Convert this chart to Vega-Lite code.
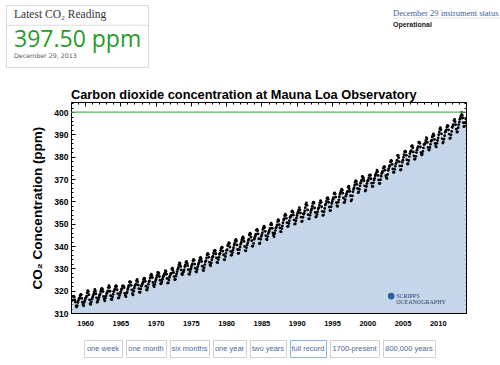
{
"$schema": "https://vega.github.io/schema/vega-lite/v6.json",
"background": "white",
"padding": {"left": 5, "top": 4, "right": 0, "bottom": 0},
"config": {
  "view": {"stroke": null},
  "axis": {"domain": false, "grid": false, "tickColor": "black", "tickWidth": 1, "labelColor": "black", "labelFont": "Liberation Sans", "labelFontWeight": "bold", "titleColor": "black", "titleFont": "Liberation Sans", "titleFontWeight": "bold"}
},
"datasets": {
  "header": [{"part": "head", "text": "Latest CO₂ Reading"}, {"part": "value", "text": "397.50 ppm"}, {"part": "date", "text": "December 29, 2013"}],
  "status": [{"part": "status", "text": "December 29 instrument status"}, {"part": "op", "text": "Operational"}],
  "buttons": [{"label": "one week"}, {"label": "one month"}, {"label": "six months"}, {"label": "one year"}, {"label": "two years"}, {"label": "full record"}, {"label": "1700-present"}, {"label": "800,000 years"}],
  "logo": [{"name": "SCRIPPS\nOCEANOGRAPHY"}],
  "ref": [{"level": 400}],
  "co2": [
{"t":1958.21,"v":315.71},{"t":1958.29,"v":317.45},{"t":1958.38,"v":317.50},{"t":1958.46,"v":317.10},{"t":1958.54,"v":315.86},{"t":1958.63,"v":314.93},{"t":1958.71,"v":313.20},{"t":1958.79,"v":312.66},{"t":1958.88,"v":313.33},{"t":1958.96,"v":314.67},
{"t":1959.04,"v":315.58},{"t":1959.13,"v":316.49},{"t":1959.21,"v":316.65},{"t":1959.29,"v":317.72},{"t":1959.38,"v":318.29},{"t":1959.46,"v":318.15},{"t":1959.54,"v":316.54},{"t":1959.63,"v":314.80},{"t":1959.71,"v":313.84},{"t":1959.79,"v":313.26},{"t":1959.88,"v":314.80},{"t":1959.96,"v":315.58},
{"t":1960.04,"v":316.43},{"t":1960.13,"v":316.97},{"t":1960.21,"v":317.58},{"t":1960.29,"v":319.02},{"t":1960.38,"v":320.03},{"t":1960.46,"v":319.59},{"t":1960.54,"v":318.18},{"t":1960.63,"v":315.91},{"t":1960.71,"v":314.16},{"t":1960.79,"v":313.83},{"t":1960.88,"v":315.00},{"t":1960.96,"v":316.19},
{"t":1961.04,"v":316.93},{"t":1961.13,"v":317.70},{"t":1961.21,"v":318.54},{"t":1961.29,"v":319.48},{"t":1961.38,"v":320.58},{"t":1961.46,"v":319.77},{"t":1961.54,"v":318.57},{"t":1961.63,"v":316.79},{"t":1961.71,"v":314.80},{"t":1961.79,"v":315.38},{"t":1961.88,"v":316.10},{"t":1961.96,"v":317.01},
{"t":1962.04,"v":317.94},{"t":1962.13,"v":318.56},{"t":1962.21,"v":319.68},{"t":1962.29,"v":320.63},{"t":1962.38,"v":321.01},{"t":1962.46,"v":320.55},{"t":1962.54,"v":319.58},{"t":1962.63,"v":317.40},{"t":1962.71,"v":316.26},{"t":1962.79,"v":315.42},{"t":1962.88,"v":316.69},{"t":1962.96,"v":317.69},
{"t":1963.04,"v":318.74},{"t":1963.13,"v":319.08},{"t":1963.21,"v":319.86},{"t":1963.29,"v":321.39},{"t":1963.38,"v":322.25},{"t":1963.46,"v":321.47},{"t":1963.54,"v":319.74},{"t":1963.63,"v":317.77},{"t":1963.71,"v":316.21},{"t":1963.79,"v":315.99},{"t":1963.88,"v":317.12},{"t":1963.96,"v":318.31},
{"t":1964.04,"v":319.57},{"t":1964.13,"v":320.07},{"t":1964.21,"v":320.73},{"t":1964.29,"v":321.77},{"t":1964.38,"v":322.25},{"t":1964.46,"v":321.89},{"t":1964.54,"v":320.44},{"t":1964.63,"v":318.70},{"t":1964.71,"v":316.70},{"t":1964.79,"v":316.79},{"t":1964.88,"v":317.79},{"t":1964.96,"v":318.71},
{"t":1965.04,"v":319.44},{"t":1965.13,"v":320.44},{"t":1965.21,"v":320.89},{"t":1965.29,"v":322.13},{"t":1965.38,"v":322.16},{"t":1965.46,"v":321.87},{"t":1965.54,"v":321.39},{"t":1965.63,"v":318.81},{"t":1965.71,"v":317.81},{"t":1965.79,"v":317.30},{"t":1965.88,"v":318.87},{"t":1965.96,"v":319.42},
{"t":1966.04,"v":320.62},{"t":1966.13,"v":321.59},{"t":1966.21,"v":322.39},{"t":1966.29,"v":323.87},{"t":1966.38,"v":324.01},{"t":1966.46,"v":323.75},{"t":1966.54,"v":322.39},{"t":1966.63,"v":320.37},{"t":1966.71,"v":318.64},{"t":1966.79,"v":318.10},{"t":1966.88,"v":319.79},{"t":1966.96,"v":321.08},
{"t":1967.04,"v":322.07},{"t":1967.13,"v":322.50},{"t":1967.21,"v":323.04},{"t":1967.29,"v":324.42},{"t":1967.38,"v":325.00},{"t":1967.46,"v":324.09},{"t":1967.54,"v":322.55},{"t":1967.63,"v":320.92},{"t":1967.71,"v":319.31},{"t":1967.79,"v":319.31},{"t":1967.88,"v":320.72},{"t":1967.96,"v":321.96},
{"t":1968.04,"v":322.57},{"t":1968.13,"v":323.15},{"t":1968.21,"v":323.89},{"t":1968.29,"v":325.02},{"t":1968.38,"v":325.57},{"t":1968.46,"v":325.36},{"t":1968.54,"v":324.14},{"t":1968.63,"v":322.03},{"t":1968.71,"v":320.41},{"t":1968.79,"v":320.25},{"t":1968.88,"v":321.31},{"t":1968.96,"v":322.84},
{"t":1969.04,"v":324.00},{"t":1969.13,"v":324.42},{"t":1969.21,"v":325.64},{"t":1969.29,"v":326.66},{"t":1969.38,"v":327.34},{"t":1969.46,"v":326.76},{"t":1969.54,"v":325.88},{"t":1969.63,"v":323.67},{"t":1969.71,"v":322.38},{"t":1969.79,"v":321.78},{"t":1969.88,"v":322.85},{"t":1969.96,"v":324.12},
{"t":1970.04,"v":325.03},{"t":1970.13,"v":325.99},{"t":1970.21,"v":326.87},{"t":1970.29,"v":328.13},{"t":1970.38,"v":328.07},{"t":1970.46,"v":327.66},{"t":1970.54,"v":326.35},{"t":1970.63,"v":324.69},{"t":1970.71,"v":323.10},{"t":1970.79,"v":323.16},{"t":1970.88,"v":323.98},{"t":1970.96,"v":325.13},
{"t":1971.04,"v":326.17},{"t":1971.13,"v":326.68},{"t":1971.21,"v":327.18},{"t":1971.29,"v":327.78},{"t":1971.38,"v":328.92},{"t":1971.46,"v":328.57},{"t":1971.54,"v":327.34},{"t":1971.63,"v":325.46},{"t":1971.71,"v":323.36},{"t":1971.79,"v":323.57},{"t":1971.88,"v":324.80},{"t":1971.96,"v":326.01},
{"t":1972.04,"v":326.77},{"t":1972.13,"v":327.63},{"t":1972.21,"v":327.75},{"t":1972.29,"v":329.72},{"t":1972.38,"v":330.07},{"t":1972.46,"v":329.09},{"t":1972.54,"v":328.05},{"t":1972.63,"v":326.32},{"t":1972.71,"v":324.93},{"t":1972.79,"v":325.06},{"t":1972.88,"v":326.50},{"t":1972.96,"v":327.55},
{"t":1973.04,"v":328.54},{"t":1973.13,"v":329.56},{"t":1973.21,"v":330.30},{"t":1973.29,"v":331.50},{"t":1973.38,"v":332.48},{"t":1973.46,"v":332.07},{"t":1973.54,"v":330.87},{"t":1973.63,"v":329.31},{"t":1973.71,"v":327.51},{"t":1973.79,"v":327.18},{"t":1973.88,"v":328.16},{"t":1973.96,"v":328.64},
{"t":1974.04,"v":329.35},{"t":1974.13,"v":330.71},{"t":1974.21,"v":331.48},{"t":1974.29,"v":332.65},{"t":1974.38,"v":333.09},{"t":1974.46,"v":332.25},{"t":1974.54,"v":331.18},{"t":1974.63,"v":329.40},{"t":1974.71,"v":327.44},{"t":1974.79,"v":327.37},{"t":1974.88,"v":328.46},{"t":1974.96,"v":329.58},
{"t":1975.04,"v":330.40},{"t":1975.13,"v":331.40},{"t":1975.21,"v":332.04},{"t":1975.29,"v":333.31},{"t":1975.38,"v":333.96},{"t":1975.46,"v":333.59},{"t":1975.54,"v":331.91},{"t":1975.63,"v":330.06},{"t":1975.71,"v":328.56},{"t":1975.79,"v":328.34},{"t":1975.88,"v":329.49},{"t":1975.96,"v":330.76},
{"t":1976.04,"v":331.75},{"t":1976.13,"v":332.56},{"t":1976.21,"v":333.50},{"t":1976.29,"v":334.58},{"t":1976.38,"v":334.87},{"t":1976.46,"v":334.34},{"t":1976.54,"v":333.05},{"t":1976.63,"v":330.94},{"t":1976.71,"v":329.30},{"t":1976.79,"v":328.94},{"t":1976.88,"v":330.31},{"t":1976.96,"v":331.68},
{"t":1977.04,"v":332.93},{"t":1977.13,"v":333.42},{"t":1977.21,"v":334.70},{"t":1977.29,"v":336.07},{"t":1977.38,"v":336.74},{"t":1977.46,"v":336.27},{"t":1977.54,"v":334.93},{"t":1977.63,"v":332.75},{"t":1977.71,"v":331.58},{"t":1977.79,"v":331.16},{"t":1977.88,"v":332.40},{"t":1977.96,"v":333.85},
{"t":1978.04,"v":334.97},{"t":1978.13,"v":335.39},{"t":1978.21,"v":336.64},{"t":1978.29,"v":337.76},{"t":1978.38,"v":338.01},{"t":1978.46,"v":337.89},{"t":1978.54,"v":336.54},{"t":1978.63,"v":334.68},{"t":1978.71,"v":332.76},{"t":1978.79,"v":332.54},{"t":1978.88,"v":333.92},{"t":1978.96,"v":334.95},
{"t":1979.04,"v":336.23},{"t":1979.13,"v":336.76},{"t":1979.21,"v":337.96},{"t":1979.29,"v":338.89},{"t":1979.38,"v":339.47},{"t":1979.46,"v":339.29},{"t":1979.54,"v":337.73},{"t":1979.63,"v":336.09},{"t":1979.71,"v":333.91},{"t":1979.79,"v":333.86},{"t":1979.88,"v":335.29},{"t":1979.96,"v":336.73},
{"t":1980.04,"v":338.01},{"t":1980.13,"v":338.36},{"t":1980.21,"v":340.08},{"t":1980.29,"v":340.77},{"t":1980.38,"v":341.46},{"t":1980.46,"v":341.17},{"t":1980.54,"v":339.56},{"t":1980.63,"v":337.60},{"t":1980.71,"v":335.88},{"t":1980.79,"v":336.01},{"t":1980.88,"v":337.10},{"t":1980.96,"v":338.21},
{"t":1981.04,"v":339.24},{"t":1981.13,"v":340.48},{"t":1981.21,"v":341.38},{"t":1981.29,"v":342.51},{"t":1981.38,"v":342.91},{"t":1981.46,"v":342.25},{"t":1981.54,"v":340.49},{"t":1981.63,"v":338.43},{"t":1981.71,"v":336.69},{"t":1981.79,"v":336.85},{"t":1981.88,"v":338.36},{"t":1981.96,"v":339.61},
{"t":1982.04,"v":340.75},{"t":1982.13,"v":341.61},{"t":1982.21,"v":342.70},{"t":1982.29,"v":343.56},{"t":1982.38,"v":344.13},{"t":1982.46,"v":343.35},{"t":1982.54,"v":342.06},{"t":1982.63,"v":339.82},{"t":1982.71,"v":337.97},{"t":1982.79,"v":337.86},{"t":1982.88,"v":339.26},{"t":1982.96,"v":340.49},
{"t":1983.04,"v":341.38},{"t":1983.13,"v":342.52},{"t":1983.21,"v":343.10},{"t":1983.29,"v":344.94},{"t":1983.38,"v":345.75},{"t":1983.46,"v":345.32},{"t":1983.54,"v":343.99},{"t":1983.63,"v":342.39},{"t":1983.71,"v":339.86},{"t":1983.79,"v":339.99},{"t":1983.88,"v":341.16},{"t":1983.96,"v":342.99},
{"t":1984.04,"v":343.70},{"t":1984.13,"v":344.51},{"t":1984.21,"v":345.28},{"t":1984.29,"v":347.08},{"t":1984.38,"v":347.43},{"t":1984.46,"v":346.79},{"t":1984.54,"v":345.40},{"t":1984.63,"v":343.28},{"t":1984.71,"v":341.07},{"t":1984.79,"v":341.35},{"t":1984.88,"v":342.98},{"t":1984.96,"v":344.22},
{"t":1985.04,"v":344.97},{"t":1985.13,"v":345.99},{"t":1985.21,"v":347.42},{"t":1985.29,"v":348.35},{"t":1985.38,"v":348.93},{"t":1985.46,"v":348.25},{"t":1985.54,"v":346.56},{"t":1985.63,"v":344.67},{"t":1985.71,"v":343.09},{"t":1985.79,"v":342.80},{"t":1985.88,"v":344.24},{"t":1985.96,"v":345.56},
{"t":1986.04,"v":346.30},{"t":1986.13,"v":346.95},{"t":1986.21,"v":347.85},{"t":1986.29,"v":349.55},{"t":1986.38,"v":350.21},{"t":1986.46,"v":349.55},{"t":1986.54,"v":347.94},{"t":1986.63,"v":345.91},{"t":1986.71,"v":344.86},{"t":1986.79,"v":344.17},{"t":1986.88,"v":345.66},{"t":1986.96,"v":346.90},
{"t":1987.04,"v":348.02},{"t":1987.13,"v":348.47},{"t":1987.21,"v":349.42},{"t":1987.29,"v":350.99},{"t":1987.38,"v":351.84},{"t":1987.46,"v":351.25},{"t":1987.54,"v":349.52},{"t":1987.63,"v":348.10},{"t":1987.71,"v":346.44},{"t":1987.79,"v":346.36},{"t":1987.88,"v":347.81},{"t":1987.96,"v":348.96},
{"t":1988.04,"v":350.43},{"t":1988.13,"v":351.72},{"t":1988.21,"v":352.22},{"t":1988.29,"v":353.59},{"t":1988.38,"v":354.22},{"t":1988.46,"v":353.79},{"t":1988.54,"v":352.39},{"t":1988.63,"v":350.44},{"t":1988.71,"v":348.72},{"t":1988.79,"v":348.88},{"t":1988.88,"v":350.07},{"t":1988.96,"v":351.34},
{"t":1989.04,"v":352.76},{"t":1989.13,"v":353.07},{"t":1989.21,"v":353.68},{"t":1989.29,"v":355.42},{"t":1989.38,"v":355.67},{"t":1989.46,"v":355.13},{"t":1989.54,"v":353.90},{"t":1989.63,"v":351.67},{"t":1989.71,"v":349.80},{"t":1989.79,"v":349.99},{"t":1989.88,"v":351.30},{"t":1989.96,"v":352.53},
{"t":1990.04,"v":353.66},{"t":1990.13,"v":354.70},{"t":1990.21,"v":355.39},{"t":1990.29,"v":356.20},{"t":1990.38,"v":357.16},{"t":1990.46,"v":356.22},{"t":1990.54,"v":354.82},{"t":1990.63,"v":352.91},{"t":1990.71,"v":350.96},{"t":1990.79,"v":351.18},{"t":1990.88,"v":352.83},{"t":1990.96,"v":354.21},
{"t":1991.04,"v":354.72},{"t":1991.13,"v":355.75},{"t":1991.21,"v":357.16},{"t":1991.29,"v":358.60},{"t":1991.38,"v":359.34},{"t":1991.46,"v":358.24},{"t":1991.54,"v":356.17},{"t":1991.63,"v":354.03},{"t":1991.71,"v":352.16},{"t":1991.79,"v":352.21},{"t":1991.88,"v":353.75},{"t":1991.96,"v":354.99},
{"t":1992.04,"v":355.98},{"t":1992.13,"v":356.72},{"t":1992.21,"v":357.81},{"t":1992.29,"v":359.15},{"t":1992.38,"v":359.66},{"t":1992.46,"v":359.25},{"t":1992.54,"v":357.02},{"t":1992.63,"v":355.00},{"t":1992.71,"v":353.01},{"t":1992.79,"v":353.31},{"t":1992.88,"v":354.16},{"t":1992.96,"v":355.40},
{"t":1993.04,"v":356.70},{"t":1993.13,"v":357.16},{"t":1993.21,"v":358.38},{"t":1993.29,"v":359.46},{"t":1993.38,"v":360.28},{"t":1993.46,"v":359.60},{"t":1993.54,"v":357.57},{"t":1993.63,"v":355.52},{"t":1993.71,"v":353.70},{"t":1993.79,"v":353.98},{"t":1993.88,"v":355.33},{"t":1993.96,"v":356.80},
{"t":1994.04,"v":358.36},{"t":1994.13,"v":358.91},{"t":1994.21,"v":359.97},{"t":1994.29,"v":361.26},{"t":1994.38,"v":361.68},{"t":1994.46,"v":360.95},{"t":1994.54,"v":359.55},{"t":1994.63,"v":357.49},{"t":1994.71,"v":355.84},{"t":1994.79,"v":355.99},{"t":1994.88,"v":357.58},{"t":1994.96,"v":359.04},
{"t":1995.04,"v":359.96},{"t":1995.13,"v":361.00},{"t":1995.21,"v":361.64},{"t":1995.29,"v":363.45},{"t":1995.38,"v":363.79},{"t":1995.46,"v":363.26},{"t":1995.54,"v":361.90},{"t":1995.63,"v":359.46},{"t":1995.71,"v":358.06},{"t":1995.79,"v":357.75},{"t":1995.88,"v":359.56},{"t":1995.96,"v":360.70},
{"t":1996.04,"v":362.05},{"t":1996.13,"v":363.25},{"t":1996.21,"v":364.03},{"t":1996.29,"v":364.72},{"t":1996.38,"v":365.41},{"t":1996.46,"v":364.97},{"t":1996.54,"v":363.65},{"t":1996.63,"v":361.49},{"t":1996.71,"v":359.46},{"t":1996.79,"v":359.60},{"t":1996.88,"v":360.76},{"t":1996.96,"v":362.33},
{"t":1997.04,"v":363.18},{"t":1997.13,"v":363.99},{"t":1997.21,"v":364.56},{"t":1997.29,"v":366.36},{"t":1997.38,"v":366.80},{"t":1997.46,"v":365.63},{"t":1997.54,"v":364.47},{"t":1997.63,"v":362.50},{"t":1997.71,"v":360.19},{"t":1997.79,"v":360.78},{"t":1997.88,"v":362.43},{"t":1997.96,"v":364.28},
{"t":1998.04,"v":365.33},{"t":1998.13,"v":366.15},{"t":1998.21,"v":367.31},{"t":1998.29,"v":368.61},{"t":1998.38,"v":369.30},{"t":1998.46,"v":368.87},{"t":1998.54,"v":367.64},{"t":1998.63,"v":365.77},{"t":1998.71,"v":363.90},{"t":1998.79,"v":364.23},{"t":1998.88,"v":365.46},{"t":1998.96,"v":366.97},
{"t":1999.04,"v":368.15},{"t":1999.13,"v":368.87},{"t":1999.21,"v":369.59},{"t":1999.29,"v":371.14},{"t":1999.38,"v":371.00},{"t":1999.46,"v":370.35},{"t":1999.54,"v":369.27},{"t":1999.63,"v":366.94},{"t":1999.71,"v":364.63},{"t":1999.79,"v":365.12},{"t":1999.88,"v":366.67},{"t":1999.96,"v":368.01},
{"t":2000.04,"v":369.14},{"t":2000.13,"v":369.46},{"t":2000.21,"v":370.52},{"t":2000.29,"v":371.66},{"t":2000.38,"v":371.82},{"t":2000.46,"v":371.70},{"t":2000.54,"v":370.12},{"t":2000.63,"v":368.12},{"t":2000.71,"v":366.62},{"t":2000.79,"v":366.73},{"t":2000.88,"v":368.29},{"t":2000.96,"v":369.53},
{"t":2001.04,"v":370.28},{"t":2001.13,"v":371.50},{"t":2001.21,"v":372.12},{"t":2001.29,"v":372.87},{"t":2001.38,"v":374.02},{"t":2001.46,"v":373.30},{"t":2001.54,"v":371.62},{"t":2001.63,"v":369.55},{"t":2001.71,"v":367.96},{"t":2001.79,"v":368.09},{"t":2001.88,"v":369.68},{"t":2001.96,"v":371.24},
{"t":2002.04,"v":372.44},{"t":2002.13,"v":373.08},{"t":2002.21,"v":373.52},{"t":2002.29,"v":374.85},{"t":2002.38,"v":375.55},{"t":2002.46,"v":375.40},{"t":2002.54,"v":374.02},{"t":2002.63,"v":371.48},{"t":2002.71,"v":370.71},{"t":2002.79,"v":370.25},{"t":2002.88,"v":372.08},{"t":2002.96,"v":373.78},
{"t":2003.04,"v":374.68},{"t":2003.13,"v":375.63},{"t":2003.21,"v":376.11},{"t":2003.29,"v":377.65},{"t":2003.38,"v":378.35},{"t":2003.46,"v":378.13},{"t":2003.54,"v":376.62},{"t":2003.63,"v":374.50},{"t":2003.71,"v":373.00},{"t":2003.79,"v":373.03},{"t":2003.88,"v":374.35},{"t":2003.96,"v":375.69},
{"t":2004.04,"v":376.79},{"t":2004.13,"v":377.37},{"t":2004.21,"v":378.41},{"t":2004.29,"v":380.52},{"t":2004.38,"v":380.63},{"t":2004.46,"v":379.57},{"t":2004.54,"v":377.79},{"t":2004.63,"v":375.86},{"t":2004.71,"v":374.06},{"t":2004.79,"v":374.24},{"t":2004.88,"v":375.86},{"t":2004.96,"v":377.48},
{"t":2005.04,"v":378.43},{"t":2005.13,"v":379.70},{"t":2005.21,"v":380.91},{"t":2005.29,"v":382.20},{"t":2005.38,"v":382.45},{"t":2005.46,"v":382.14},{"t":2005.54,"v":380.60},{"t":2005.63,"v":378.64},{"t":2005.71,"v":376.73},{"t":2005.79,"v":376.84},{"t":2005.88,"v":378.29},{"t":2005.96,"v":380.06},
{"t":2006.04,"v":381.40},{"t":2006.13,"v":382.20},{"t":2006.21,"v":382.66},{"t":2006.29,"v":384.69},{"t":2006.38,"v":384.94},{"t":2006.46,"v":384.01},{"t":2006.54,"v":382.14},{"t":2006.63,"v":380.31},{"t":2006.71,"v":378.81},{"t":2006.79,"v":379.03},{"t":2006.88,"v":380.17},{"t":2006.96,"v":381.85},
{"t":2007.04,"v":382.94},{"t":2007.13,"v":383.86},{"t":2007.21,"v":384.49},{"t":2007.29,"v":386.37},{"t":2007.38,"v":386.54},{"t":2007.46,"v":385.98},{"t":2007.54,"v":384.36},{"t":2007.63,"v":381.85},{"t":2007.71,"v":380.74},{"t":2007.79,"v":381.15},{"t":2007.88,"v":382.38},{"t":2007.96,"v":383.94},
{"t":2008.04,"v":385.44},{"t":2008.13,"v":385.73},{"t":2008.21,"v":385.97},{"t":2008.29,"v":387.16},{"t":2008.38,"v":388.50},{"t":2008.46,"v":387.88},{"t":2008.54,"v":386.38},{"t":2008.63,"v":384.15},{"t":2008.71,"v":383.07},{"t":2008.79,"v":382.98},{"t":2008.88,"v":384.11},{"t":2008.96,"v":385.54},
{"t":2009.04,"v":386.92},{"t":2009.13,"v":387.41},{"t":2009.21,"v":388.77},{"t":2009.29,"v":389.46},{"t":2009.38,"v":390.18},{"t":2009.46,"v":389.43},{"t":2009.54,"v":387.74},{"t":2009.63,"v":385.91},{"t":2009.71,"v":384.77},{"t":2009.79,"v":384.38},{"t":2009.88,"v":385.99},{"t":2009.96,"v":387.26},
{"t":2010.04,"v":388.45},{"t":2010.13,"v":389.82},{"t":2010.21,"v":391.08},{"t":2010.29,"v":392.46},{"t":2010.38,"v":393.00},{"t":2010.46,"v":392.12},{"t":2010.54,"v":390.24},{"t":2010.63,"v":388.03},{"t":2010.71,"v":386.11},{"t":2010.79,"v":386.65},{"t":2010.88,"v":387.88},{"t":2010.96,"v":389.38},
{"t":2011.04,"v":390.99},{"t":2011.13,"v":391.50},{"t":2011.21,"v":392.05},{"t":2011.29,"v":393.31},{"t":2011.38,"v":394.04},{"t":2011.46,"v":393.66},{"t":2011.54,"v":392.03},{"t":2011.63,"v":390.13},{"t":2011.71,"v":388.15},{"t":2011.79,"v":388.41},{"t":2011.88,"v":389.81},{"t":2011.96,"v":391.31},
{"t":2012.04,"v":393.12},{"t":2012.13,"v":393.86},{"t":2012.21,"v":394.40},{"t":2012.29,"v":396.18},{"t":2012.38,"v":396.74},{"t":2012.46,"v":395.71},{"t":2012.54,"v":394.36},{"t":2012.63,"v":392.39},{"t":2012.71,"v":391.11},{"t":2012.79,"v":391.05},{"t":2012.88,"v":392.98},{"t":2012.96,"v":394.34},
{"t":2013.04,"v":395.55},{"t":2013.13,"v":396.80},{"t":2013.21,"v":397.43},{"t":2013.29,"v":398.41},{"t":2013.38,"v":399.78},{"t":2013.46,"v":398.61},{"t":2013.54,"v":397.32},{"t":2013.63,"v":395.20},{"t":2013.71,"v":393.45},{"t":2013.79,"v":393.70},{"t":2013.88,"v":395.16},{"t":2013.96,"v":396.84}
  ]
},
"spacing": 20,
"vconcat": [
  {
    "spacing": 243,
    "hconcat": [
      {
        "width": 142, "height": 62,
        "view": {"stroke": "#d9d9d9"},
        "data": {"name": "header"},
        "layer": [
          {
            "transform": [{"filter": "datum.part === 'head'"}],
            "mark": {"type": "text", "align": "left", "baseline": "alphabetic", "dx": 8, "dy": 5, "font": "Liberation Serif", "fontSize": 11.5, "color": "#333333"},
            "encoding": {
              "x": {"datum": 0, "type": "quantitative", "scale": {"domain": [0, 1]}, "axis": null},
              "y": {"field": "part", "type": "nominal", "scale": {"type": "point", "domain": ["head", "rule", "value", "date"], "padding": 0.5}, "axis": null},
              "text": {"field": "text", "type": "nominal"}
            }
          },
          {
            "transform": [{"filter": "datum.part === 'head'"}],
            "mark": {"type": "rule", "color": "#dddddd", "yOffset": -3},
            "encoding": {
              "y": {"datum": "rule", "type": "nominal", "scale": {"type": "point", "domain": ["head", "rule", "value", "date"], "padding": 0.5}, "axis": null}
            }
          },
          {
            "transform": [{"filter": "datum.part === 'value'"}],
            "mark": {"type": "text", "align": "left", "baseline": "alphabetic", "dx": 8, "dy": 3, "font": "Open Sans", "fontSize": 23, "color": "#2a9a2a"},
            "encoding": {
              "x": {"datum": 0, "type": "quantitative", "scale": {"domain": [0, 1]}, "axis": null},
              "y": {"field": "part", "type": "nominal", "scale": {"type": "point", "domain": ["head", "rule", "value", "date"], "padding": 0.5}, "axis": null},
              "text": {"field": "text", "type": "nominal"}
            }
          },
          {
            "transform": [{"filter": "datum.part === 'date'"}],
            "mark": {"type": "text", "align": "left", "baseline": "alphabetic", "dx": 8, "dy": -1, "font": "DejaVu Sans", "fontSize": 6.3, "color": "#555555"},
            "encoding": {
              "x": {"datum": 0, "type": "quantitative", "scale": {"domain": [0, 1]}, "axis": null},
              "y": {"field": "part", "type": "nominal", "scale": {"type": "point", "domain": ["head", "rule", "value", "date"], "padding": 0.5}, "axis": null},
              "text": {"field": "text", "type": "nominal"}
            }
          }
        ]
      },
      {
        "width": 107, "height": 26,
        "data": {"name": "status"},
        "layer": [
          {
            "transform": [{"filter": "datum.part === 'status'"}],
            "mark": {"type": "text", "align": "left", "baseline": "alphabetic", "dy": 7, "font": "Liberation Serif", "fontSize": 8.5, "color": "#3a5f9f"},
            "encoding": {
              "x": {"datum": 0, "type": "quantitative", "scale": {"domain": [0, 1]}, "axis": null},
              "y": {"field": "part", "type": "nominal", "scale": {"type": "point", "domain": ["status", "line", "op"], "padding": 0.5}, "axis": null},
              "text": {"field": "text", "type": "nominal"}
            }
          },
          {
            "transform": [{"filter": "datum.part === 'status'"}],
            "mark": {"type": "rule", "color": "#e3e3e3"},
            "encoding": {
              "y": {"datum": "line", "type": "nominal", "scale": {"type": "point", "domain": ["status", "line", "op"], "padding": 0.5}, "axis": null}
            }
          },
          {
            "transform": [{"filter": "datum.part === 'op'"}],
            "mark": {"type": "text", "align": "left", "baseline": "alphabetic", "font": "Liberation Sans", "fontWeight": "bold", "fontSize": 7, "color": "#222222"},
            "encoding": {
              "x": {"datum": 0, "type": "quantitative", "scale": {"domain": [0, 1]}, "axis": null},
              "y": {"field": "part", "type": "nominal", "scale": {"type": "point", "domain": ["status", "line", "op"], "padding": 0.5}, "axis": null},
              "text": {"field": "text", "type": "nominal"}
            }
          }
        ]
      }
    ]
  },
  {
    "spacing": 23,
    "hconcat": [
      {"width": 1, "height": 1, "data": {"values": []}, "mark": "point"},
      {
        "spacing": 12,
        "vconcat": [
          {
            "width": 395, "height": 211,
            "view": {"stroke": "black", "strokeWidth": 1},
            "title": {"text": "Carbon dioxide concentration at Mauna Loa Observatory", "anchor": "start", "frame": "group", "font": "Liberation Sans", "fontSize": 12.8, "fontWeight": "bold", "color": "black", "offset": 0},
            "resolve": {"axis": {"x": "independent", "y": "independent"}},
            "layer": [
              {
                "data": {"name": "co2"},
                "mark": {"type": "area", "color": "#c6d6ea", "clip": true},
                "encoding": {
                  "x": {"field": "t", "type": "quantitative", "scale": {"domain": [1958, 2014], "nice": false, "zero": false},
                        "axis": {"orient": "bottom", "values": [1960, 1965, 1970, 1975, 1980, 1985, 1990, 1995, 2000, 2005, 2010], "format": "d", "tickSize": -4, "labelPadding": 10, "labelFontSize": 7.5, "title": null}},
                  "y": {"field": "v", "type": "quantitative", "scale": {"domain": [310, 404.5], "nice": false, "zero": false},
                        "axis": {"orient": "left", "values": [310, 320, 330, 340, 350, 360, 370, 380, 390, 400], "tickSize": -4, "labelPadding": 7, "labelFontSize": 8.5, "title": "CO₂ Concentration (ppm)", "titleFontSize": 13.5, "titlePadding": 9}}
                }
              },
              {
                "data": {"name": "co2"},
                "mark": {"type": "circle", "color": "black", "size": 8, "opacity": 1, "clip": true},
                "encoding": {
                  "x": {"field": "t", "type": "quantitative", "scale": {"domain": [1958, 2014], "nice": false, "zero": false},
                        "axis": {"orient": "bottom", "values": [1958, 1959, 1960, 1961, 1962, 1963, 1964, 1965, 1966, 1967, 1968, 1969, 1970, 1971, 1972, 1973, 1974, 1975, 1976, 1977, 1978, 1979, 1980, 1981, 1982, 1983, 1984, 1985, 1986, 1987, 1988, 1989, 1990, 1991, 1992, 1993, 1994, 1995, 1996, 1997, 1998, 1999, 2000, 2001, 2002, 2003, 2004, 2005, 2006, 2007, 2008, 2009, 2010, 2011, 2012, 2013, 2014], "tickSize": -2, "labels": false, "title": null}},
                  "y": {"field": "v", "type": "quantitative", "scale": {"domain": [310, 404.5], "nice": false, "zero": false},
                        "axis": {"orient": "left", "values": [310, 312, 314, 316, 318, 320, 322, 324, 326, 328, 330, 332, 334, 336, 338, 340, 342, 344, 346, 348, 350, 352, 354, 356, 358, 360, 362, 364, 366, 368, 370, 372, 374, 376, 378, 380, 382, 384, 386, 388, 390, 392, 394, 396, 398, 400, 402, 404], "tickSize": -2, "labels": false, "title": null}}
                }
              },
              {
                "data": {"name": "ref"},
                "mark": {"type": "rule", "color": "#55b35b", "strokeWidth": 1.2},
                "encoding": {
                  "y": {"field": "level", "type": "quantitative", "scale": {"domain": [310, 404.5], "nice": false, "zero": false}, "axis": null}
                }
              },
              {
                "data": {"name": "logo"},
                "mark": {"type": "text", "align": "left", "baseline": "middle", "lineBreak": "\n", "lineHeight": 6, "font": "Liberation Serif", "fontSize": 6, "color": "#1f3f73"},
                "encoding": {
                  "x": {"datum": 2004.1, "type": "quantitative", "scale": {"domain": [1958, 2014], "nice": false, "zero": false},
                        "axis": {"orient": "top", "values": [1960, 1965, 1970, 1975, 1980, 1985, 1990, 1995, 2000, 2005, 2010], "tickSize": -4, "labels": false, "title": null}},
                  "y": {"datum": 317.6, "type": "quantitative", "scale": {"domain": [310, 404.5], "nice": false, "zero": false},
                        "axis": {"orient": "right", "values": [310, 320, 330, 340, 350, 360, 370, 380, 390, 400], "tickSize": -4, "labels": false, "title": null, "minExtent": 0}},
                  "text": {"field": "name", "type": "nominal"}
                }
              },
              {
                "data": {"name": "logo"},
                "mark": {"type": "circle", "color": "#2d5d9f", "size": 45, "opacity": 1},
                "encoding": {
                  "x": {"datum": 2003.4, "type": "quantitative", "scale": {"domain": [1958, 2014], "nice": false, "zero": false},
                        "axis": {"orient": "top", "values": [1958, 1959, 1960, 1961, 1962, 1963, 1964, 1965, 1966, 1967, 1968, 1969, 1970, 1971, 1972, 1973, 1974, 1975, 1976, 1977, 1978, 1979, 1980, 1981, 1982, 1983, 1984, 1985, 1986, 1987, 1988, 1989, 1990, 1991, 1992, 1993, 1994, 1995, 1996, 1997, 1998, 1999, 2000, 2001, 2002, 2003, 2004, 2005, 2006, 2007, 2008, 2009, 2010, 2011, 2012, 2013, 2014], "tickSize": -2, "labels": false, "title": null}},
                  "y": {"datum": 317.6, "type": "quantitative", "scale": {"domain": [310, 404.5], "nice": false, "zero": false},
                        "axis": {"orient": "right", "values": [310, 312, 314, 316, 318, 320, 322, 324, 326, 328, 330, 332, 334, 336, 338, 340, 342, 344, 346, 348, 350, 352, 354, 356, 358, 360, 362, 364, 366, 368, 370, 372, 374, 376, 378, 380, 382, 384, 386, 388, 390, 392, 394, 396, 398, 400, 402, 404], "tickSize": -2, "labels": false, "title": null, "minExtent": 0}}
                }
              }
            ]
          },
          {
            "spacing": 2,
            "hconcat": [
              {"width": 10, "height": 1, "data": {"values": []}, "mark": "point"},
              {"width": 38, "height": 17, "view": {"stroke": "#d2d2d2", "fill": "white"}, "data": {"name": "buttons"}, "transform": [{"filter": "datum.label === 'one week'"}], "mark": {"type": "text", "font": "Liberation Sans", "fontSize": 7.5, "color": "#4a6b9b"}, "encoding": {"text": {"field": "label", "type": "nominal"}}},
              {"width": 40, "height": 17, "view": {"stroke": "#d2d2d2", "fill": "white"}, "data": {"name": "buttons"}, "transform": [{"filter": "datum.label === 'one month'"}], "mark": {"type": "text", "font": "Liberation Sans", "fontSize": 7.5, "color": "#4a6b9b"}, "encoding": {"text": {"field": "label", "type": "nominal"}}},
              {"width": 39, "height": 17, "view": {"stroke": "#d2d2d2", "fill": "white"}, "data": {"name": "buttons"}, "transform": [{"filter": "datum.label === 'six months'"}], "mark": {"type": "text", "font": "Liberation Sans", "fontSize": 7.5, "color": "#4a6b9b"}, "encoding": {"text": {"field": "label", "type": "nominal"}}},
              {"width": 33, "height": 17, "view": {"stroke": "#d2d2d2", "fill": "white"}, "data": {"name": "buttons"}, "transform": [{"filter": "datum.label === 'one year'"}], "mark": {"type": "text", "font": "Liberation Sans", "fontSize": 7.5, "color": "#4a6b9b"}, "encoding": {"text": {"field": "label", "type": "nominal"}}},
              {"width": 36, "height": 17, "view": {"stroke": "#d2d2d2", "fill": "white"}, "data": {"name": "buttons"}, "transform": [{"filter": "datum.label === 'two years'"}], "mark": {"type": "text", "font": "Liberation Sans", "fontSize": 7.5, "color": "#4a6b9b"}, "encoding": {"text": {"field": "label", "type": "nominal"}}},
              {"width": 36, "height": 17, "view": {"stroke": "#8fb2e6", "fill": "white"}, "data": {"name": "buttons"}, "transform": [{"filter": "datum.label === 'full record'"}], "mark": {"type": "text", "font": "Liberation Sans", "fontSize": 7.5, "color": "#4a6b9b"}, "encoding": {"text": {"field": "label", "type": "nominal"}}},
              {"width": 49, "height": 17, "view": {"stroke": "#d2d2d2", "fill": "white"}, "data": {"name": "buttons"}, "transform": [{"filter": "datum.label === '1700-present'"}], "mark": {"type": "text", "font": "Liberation Sans", "fontSize": 7.5, "color": "#4a6b9b"}, "encoding": {"text": {"field": "label", "type": "nominal"}}},
              {"width": 52, "height": 17, "view": {"stroke": "#d2d2d2", "fill": "white"}, "data": {"name": "buttons"}, "transform": [{"filter": "datum.label === '800,000 years'"}], "mark": {"type": "text", "font": "Liberation Sans", "fontSize": 7.5, "color": "#4a6b9b"}, "encoding": {"text": {"field": "label", "type": "nominal"}}}
            ]
          }
        ]
      }
    ]
  }
]
}
